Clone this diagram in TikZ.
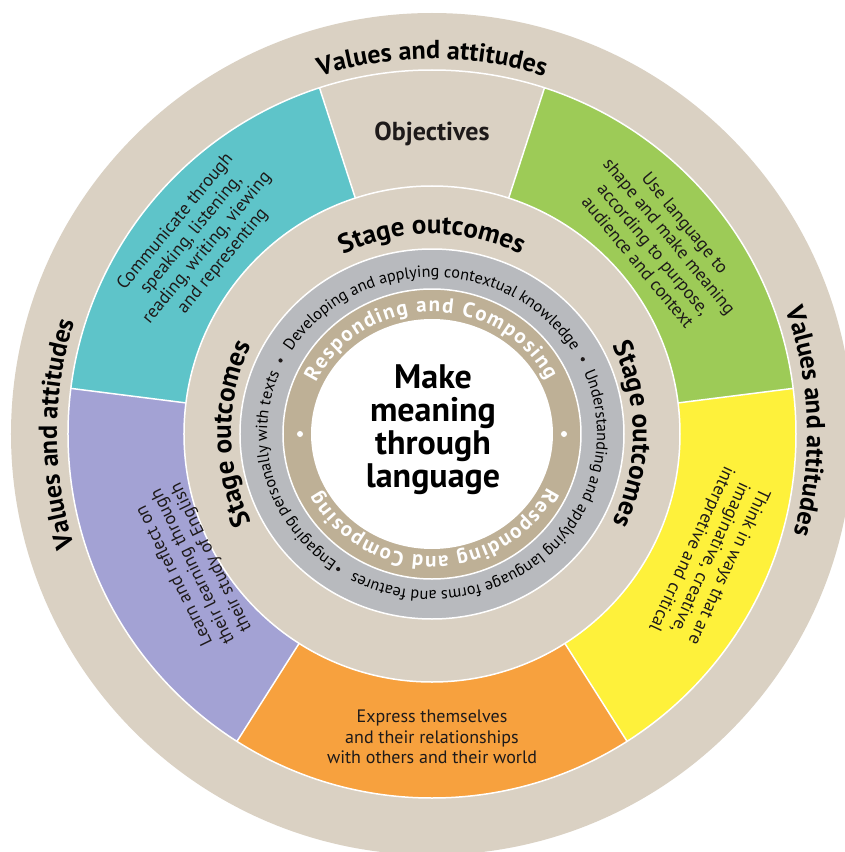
\documentclass[tikz,border=0pt]{standalone}
\usepackage{fontspec}
\setmainfont{PT Sans}
\usetikzlibrary{decorations.text}
\definecolor{cBeige}{HTML}{DAD1C3}
\definecolor{cTeal}{HTML}{5EC4C9}
\definecolor{cGreen}{HTML}{9DCB57}
\definecolor{cYellow}{HTML}{FEF13B}
\definecolor{cOrange}{HTML}{F7A13E}
\definecolor{cPurple}{HTML}{A3A2D4}
\definecolor{cGray}{HTML}{B8BABE}
\definecolor{cTan}{HTML}{BEB096}
\definecolor{cInk}{HTML}{1E1A1A}
\newcommand\fVal{\bfseries\fontsize{26}{30}\selectfont}
\newcommand\fStage{\bfseries\fontsize{27}{30}\selectfont}
\newcommand\fRC{\bfseries\fontsize{21}{23}\selectfont\color{white}}
\newcommand\fRing{\fontsize{16.2}{18}\selectfont}
\newcommand\fWedge{\fontsize{18}{20.5}\selectfont}
\newcommand\annsec[3]{\fill[#1] (#2:248) arc[start angle=#2, end angle=#3, radius=248] -- (#3:364) arc[start angle=#3, end angle=#2, radius=364] -- cycle;}
\begin{document}
\begin{tikzpicture}[x=1pt,y=1pt,
  sep/.style={draw=white, line width=1.5pt},
  wedgetext/.style={align=center, font=\fWedge, text=cInk, inner sep=0pt},
  curved/.style={decorate, decoration={text along path, text align=center, text={#1}}},
  curvedfit/.style={decorate, decoration={text along path, text align={fit to path}, text={#1}}}]
\useasboundingbox (-432,-418) rectangle (413,434);
% outer ring
\fill[cBeige] (0,0) circle[radius=421];
% coloured wedges
\annsec{cGreen}{7.2}{72}
\annsec{cTeal}{108}{172.8}
\annsec{cPurple}{172.8}{237.6}
\annsec{cOrange}{237.6}{302.4}
\annsec{cYellow}{302.4}{367.2}
\draw[sep] (0,0) circle[radius=364];
\foreach \a in {7.2,72,108,172.8,237.6,302.4} \draw[sep] (\a:248) -- (\a:364);
% inner rings
\filldraw[fill=cBeige, sep] (0,0) circle[radius=248];
\filldraw[fill=cGray, sep] (0,0) ellipse[x radius=192, y radius=185];
\filldraw[fill=cTan, sep] (0,0) ellipse[x radius=149, y radius=145];
\fill[white] (0,0) ellipse[x radius=121, y radius=115];
% outer ring texts
\path[curved={|\fVal|Values and attitudes}] (160:375) arc[start angle=160, end angle=20, radius=375];
\path[curved={|\fVal|Values and attitudes}] (250:375) arc[start angle=250, end angle=110, radius=375];
\path[curved={|\fVal|Values and attitudes}] (72:375) arc[start angle=72, end angle=-68, radius=375];
% stage outcomes
\path[curved={|\fStage|Stage outcomes}] (160:200) arc[start angle=160, end angle=20, radius=200];
\path[curved={|\fStage|Stage outcomes}] (250:201) arc[start angle=250, end angle=110, radius=201];
\path[curved={|\fStage|Stage outcomes}] (70:201) arc[start angle=70, end angle=-70, radius=201];
% gray ring
\path[curved={|\fRing|Developing and applying contextual knowledge}] (165:165 and 157) arc[start angle=165, end angle=15, x radius=165, y radius=157];
\path[curved={|\fRing|Understanding and applying language forms and features}] (32.5:165 and 157) arc[start angle=32.5, end angle=-127.5, x radius=165, y radius=157];
\path[curved={|\fRing|Engaging personally with texts}] (246:165 and 157) arc[start angle=246, end angle=146, x radius=165, y radius=157];
\foreach \a in {27.5,-123.5,153} \fill[cInk] (\a:170 and 162) circle[radius=2.1];
% tan ring
\path[curvedfit={|\fRC|Responding and Composing}] (155:128 and 122) arc[start angle=155, end angle=26, x radius=128, y radius=122];
\path[curvedfit={|\fRC|Responding and Composing}] (-26:128 and 122) arc[start angle=-26, end angle=-152, x radius=128, y radius=122];
\foreach \a in {0,180} \fill[white] (\a:132) circle[radius=3];
% wedge texts
\node[font=\bfseries\fontsize{26}{30}\selectfont, text=cInk] (tobj) at (0,300) {Objectives};
\node[wedgetext, rotate=50.4] (tcomm) at (140.4:302) {Communicate through\\speaking, listening,\\reading, writing, viewing\\and representing};
\node[wedgetext, rotate=-50.4] (tuse) at (39.8:299) {Use language to\\shape and make meaning\\according to purpose,\\audience and context};
\node[wedgetext, rotate=-115] (tthink) at (-24:304) {Think in ways that are\\imaginative, creative,\\interpretive and critical};
\node[wedgetext, rotate=116] (tlearn) at (209:273) {Learn and reflect on\\their learning through\\their study of English};
\node[wedgetext] (texpress) at (0,-303) {Express themselves\\and their relationships\\with others and their world};
% centre
\node[font=\bfseries\fontsize{34}{33}\selectfont, align=center, text=black, inner sep=0pt] (tmake) at (1,4) {Make\\meaning\\through\\language};
\end{tikzpicture}
\end{document}
